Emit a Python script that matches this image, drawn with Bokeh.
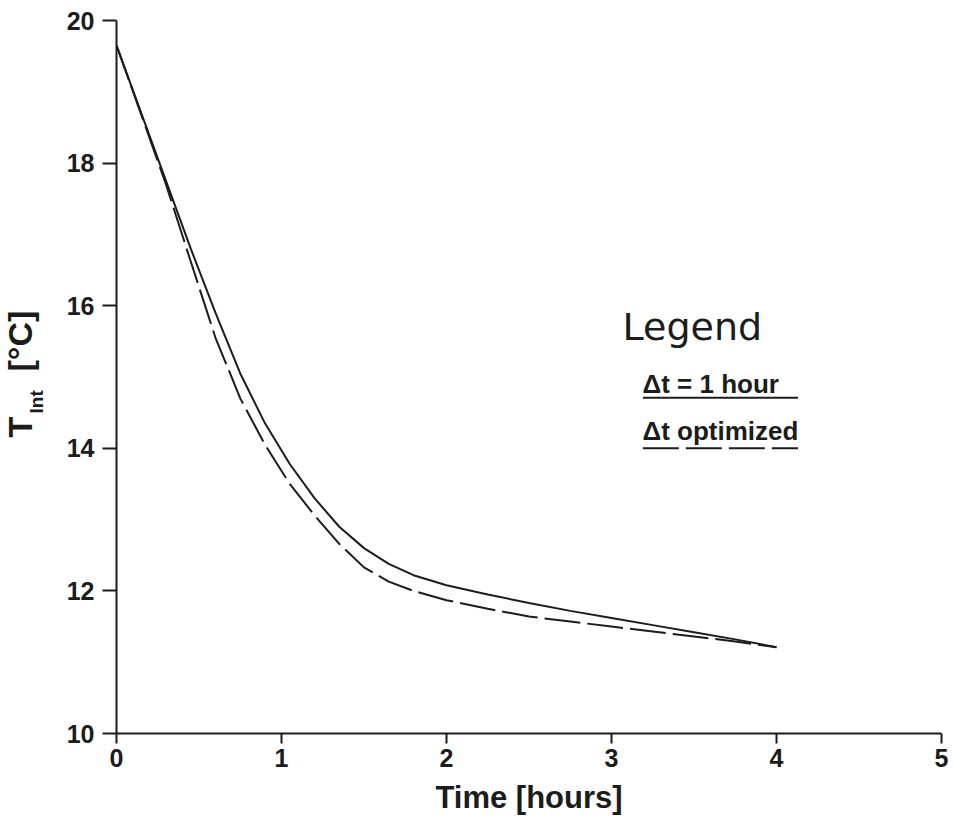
from bokeh.plotting import figure
from bokeh.models import Label, Range1d, FixedTicker
from bokeh.layouts import row
from bokeh.embed import file_html
from bokeh.resources import INLINE
import math

# ---- data ----
time_h = [0, 0.15, 0.3, 0.45, 0.6, 0.75, 0.9, 1.05, 1.2, 1.35, 1.5, 1.65, 1.8,
          2.0, 2.25, 2.5, 2.75, 3.0, 3.25, 3.5, 3.75, 4.0]
t_1hour = [19.65, 18.70, 17.75, 16.80, 15.90, 15.05, 14.35, 13.78, 13.30, 12.90, 12.60,
           12.38, 12.22, 12.08, 11.95, 11.83, 11.72, 11.62, 11.52, 11.42, 11.32, 11.21]
t_optimized = [19.65, 18.68, 17.70, 16.62, 15.55, 14.70, 14.05, 13.50, 13.06, 12.66, 12.33,
               12.13, 12.00, 11.87, 11.75, 11.64, 11.57, 11.50, 11.43, 11.36, 11.29, 11.21]

x_ticks = [0, 1, 2, 3, 4, 5]
y_ticks = [10, 12, 14, 16, 18, 20]

legend_title = "Legend"
legend_labels = ["\u0394t = 1 hour", "\u0394t optimized"]
# legend sample lines (data units): x start/end, y levels
legend_x = [3.19, 4.13]
legend_y = [14.71, 14.0]

INK = "#1c1c1c"
FONT = "Liberation Sans"
H = 820
LW = 60
FRAME_TOP = 20
FRAME_BOTTOM = 733

# ---- narrow figure holding the rotated y-axis title ----
lab = figure(width=LW, height=H, output_backend="svg", toolbar_location=None,
             x_axis_type=None, y_axis_type=None, x_range=Range1d(0, 1), y_range=Range1d(0, 1),
             min_border=0)
lab.outline_line_color = None
lab.grid.visible = False
# (screen units; this frame is aligned with the main plot frame)
for txt, x, y, size in [("T", 19, 296, "34px"), ("Int", 36, 320, "19px"), ("[\u00b0C]", 19, 362, "34px")]:
    lab.add_layout(Label(x=x, y=y, x_units="screen", y_units="screen", text=txt,
                         angle=math.pi / 2, text_font=FONT, text_font_style="bold",
                         text_font_size=size, text_align="left", text_baseline="alphabetic",
                         text_color=INK))

# ---- main figure ----
p = figure(width=950 - LW, height=H, output_backend="svg", toolbar_location=None,
           x_range=Range1d(0, 5), y_range=Range1d(10, 20),
           min_border_left=116 - LW, min_border_right=9, min_border_top=FRAME_TOP,
           min_border_bottom=H - FRAME_BOTTOM)
p.outline_line_color = None
p.grid.visible = False

p.line(time_h, t_1hour, line_color=INK, line_width=2)
p.line(time_h, t_optimized, line_color=INK, line_width=2, line_dash="36 7")

# legend samples
p.line(legend_x, [legend_y[0], legend_y[0]], line_color=INK, line_width=2)
p.line(legend_x, [legend_y[1], legend_y[1]], line_color=INK, line_width=2, line_dash="36 7")

for ax in (p.xaxis[0], p.yaxis[0]):
    ax.axis_line_color = INK
    ax.axis_line_width = 2
    ax.major_tick_line_color = INK
    ax.major_tick_line_width = 2
    ax.major_tick_in = 0
    ax.minor_tick_line_color = None
    ax.major_label_text_font = FONT
    ax.major_label_text_font_style = "bold"
    ax.major_label_text_font_size = "25px"
    ax.major_label_text_color = INK

p.xaxis.ticker = FixedTicker(ticks=x_ticks)
p.yaxis.ticker = FixedTicker(ticks=y_ticks)
p.xaxis.major_tick_out = 10
p.xaxis.major_label_standoff = 5
p.yaxis.major_tick_out = 14
p.yaxis.major_label_standoff = 8

p.xaxis.axis_label = "Time [hours]"
p.xaxis.axis_label_text_font = FONT
p.xaxis.axis_label_text_font_style = "bold"
p.xaxis.axis_label_text_font_size = "31px"
p.xaxis.axis_label_text_color = INK
p.xaxis.axis_label_standoff = 10

# legend texts (screen units relative to the frame)
p.add_layout(Label(x=506, y=407, x_units="screen", y_units="screen", text=legend_title,
                   text_font="DejaVu Sans", text_font_size="38px",
                   text_align="left", text_baseline="alphabetic", text_color=INK))
p.add_layout(Label(x=526, y=350, x_units="screen", y_units="screen", text=legend_labels[0],
                   text_font=FONT, text_font_style="bold", text_font_size="26px",
                   text_align="left", text_baseline="alphabetic", text_color=INK))
p.add_layout(Label(x=526, y=303, x_units="screen", y_units="screen", text=legend_labels[1],
                   text_font=FONT, text_font_style="bold", text_font_size="26px",
                   text_align="left", text_baseline="alphabetic", text_color=INK))

layout = row(lab, p, spacing=0)
open("out.html", "w").write(file_html(layout, INLINE))
